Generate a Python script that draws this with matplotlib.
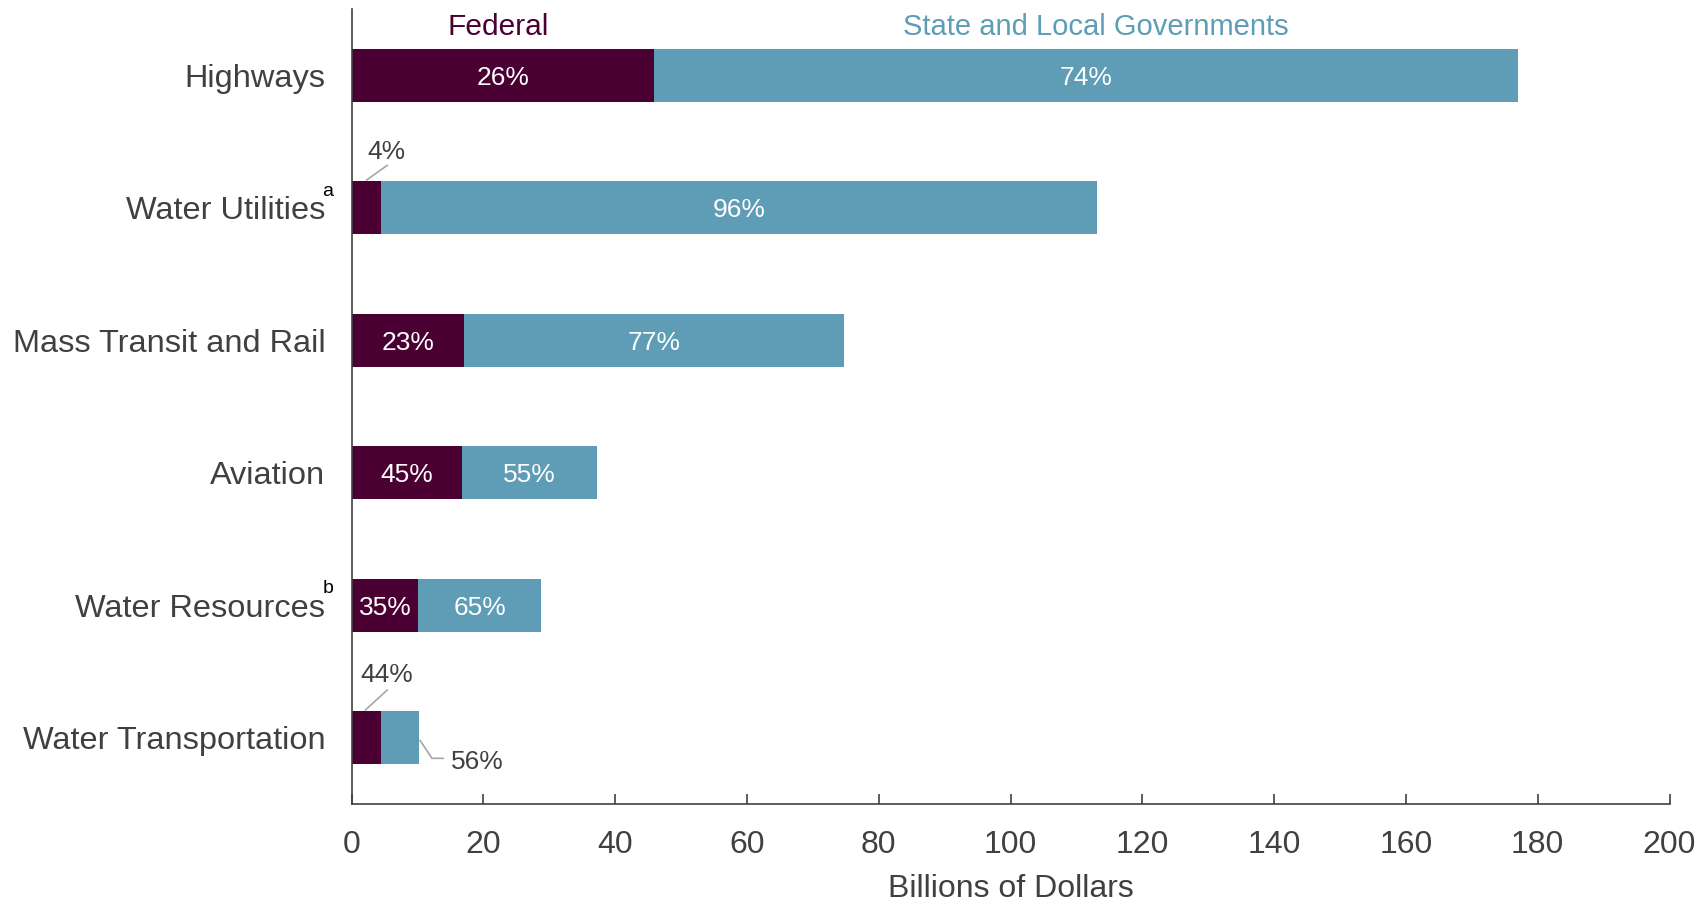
import matplotlib
matplotlib.use("Agg")
import matplotlib.pyplot as plt
from matplotlib import font_manager

categories = ["Highways", "Water Utilities", "Mass Transit and Rail", "Aviation",
              "Water Resources", "Water Transportation"]
superscripts = ["", "a", "", "", "b", ""]
federal = [45.9, 4.4, 17.1, 16.8, 10.1, 4.5]
state_local = [131.1, 108.7, 57.6, 20.4, 18.7, 5.7]
fed_pct = ["26%", "4%", "23%", "45%", "35%", "44%"]
state_pct = ["74%", "96%", "77%", "55%", "65%", "56%"]
xticks = [0, 20, 40, 60, 80, 100, 120, 140, 160, 180, 200]

names = {f.name for f in font_manager.fontManager.ttflist}
base = "Liberation Sans" if "Liberation Sans" in names else "DejaVu Sans"
plt.rcParams["font.family"] = [base, "DejaVu Sans"]

FED = "#4A0033"
STL = "#5E9DB5"
TXT = "#404040"
LEAD = "#A6A6A6"

fig = plt.figure(figsize=(17.01, 9.02), dpi=100)
ax = fig.add_axes([0.2067, 0.1086, 0.9815 - 0.2067, 0.990 - 0.1086])

y = list(range(len(categories)))
h = 0.40
ax.barh(y, federal, height=h, color=FED, zorder=2)
ax.barh(y, state_local, left=federal, height=h, color=STL, zorder=2)

ax.set_xlim(0, 200)
ax.set_ylim(5.5, -0.5)
ax.set_xticks(xticks)
ax.set_xticklabels([str(t) for t in xticks], fontsize=23, color=TXT)
ax.set_yticks(y)
ax.set_yticklabels(categories, fontsize=23.4, color=TXT)
ax.tick_params(axis="y", length=0, pad=19)
ax.tick_params(axis="x", direction="in", length=7, width=1.2, color=TXT, pad=19)
for s in ["top", "right"]:
    ax.spines[s].set_visible(False)
for s in ["left", "bottom"]:
    ax.spines[s].set_color(TXT)
    ax.spines[s].set_linewidth(1.2)

ax.set_xlabel("Billions of Dollars", fontsize=23, color=TXT, labelpad=10)

# superscripts
for i, sup in enumerate(superscripts):
    if sup:
        ax.annotate(sup, xy=(0, i), xycoords=("axes fraction", "data"),
                    xytext=(-17, 12), textcoords="offset points",
                    ha="center", va="center", fontsize=14, color="black")

# inside labels
inside_fed = [0, 2, 3, 4]
inside_st = [0, 1, 2, 3, 4]
for i in inside_fed:
    ax.text(federal[i] / 2, i, fed_pct[i], ha="center", va="center_baseline", color="white",
            fontsize=19, zorder=3)
for i in inside_st:
    ax.text(federal[i] + state_local[i] / 2, i, state_pct[i], ha="center", va="center_baseline",
            color="white", fontsize=19, zorder=3)

# outside labels with leader lines
ax.plot([2.3, 5.4], [0.79, 0.68], color=LEAD, lw=1.2, zorder=3)
ax.text(5.3, 0.56, fed_pct[1], ha="center", va="center_baseline", color=TXT, fontsize=19)
ax.plot([2.1, 5.4], [4.79, 4.64], color=LEAD, lw=1.2, zorder=3)
ax.text(5.4, 4.51, fed_pct[5], ha="center", va="center_baseline", color=TXT, fontsize=19)
ax.plot([10.4, 12.2, 13.9], [5.02, 5.155, 5.155], color=LEAD, lw=1.2, zorder=3)
ax.text(19.1, 5.165, state_pct[5], ha="center", va="center_baseline", color=TXT, fontsize=19)

# series headers
ax.text(22.2, -0.39, "Federal", ha="center", va="center_baseline", color=FED, fontsize=21.5)
ax.text(112.9, -0.39, "State and Local Governments", ha="center", va="center_baseline",
        color=STL, fontsize=21)

fig.savefig("out.png", dpi=100)
